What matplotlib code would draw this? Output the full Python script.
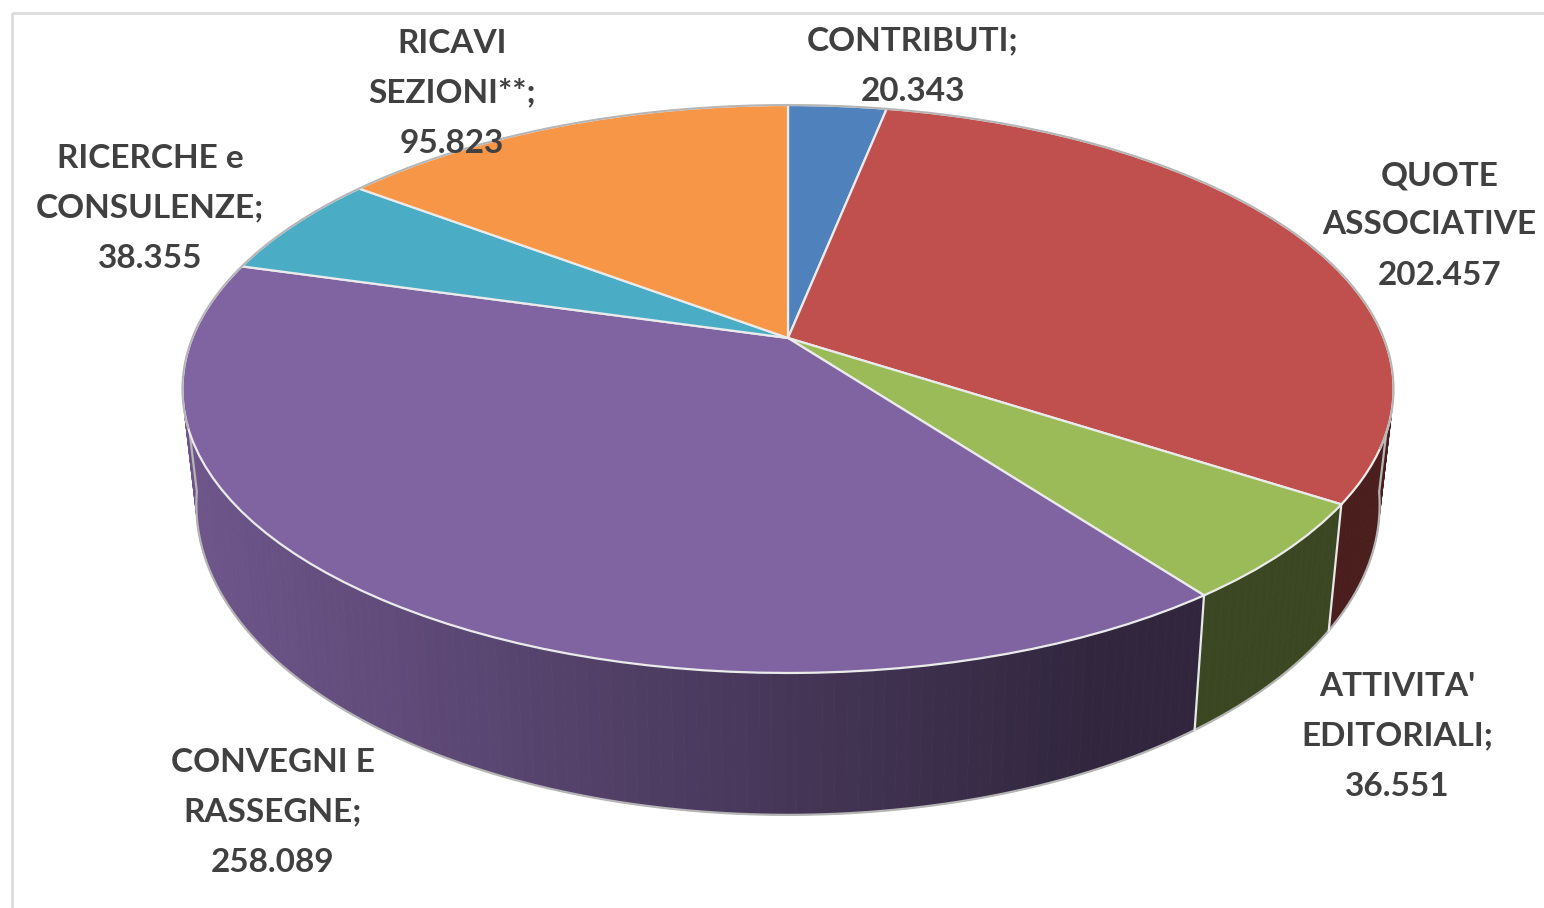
import numpy as np
import matplotlib
matplotlib.use("Agg")
import matplotlib.pyplot as plt
from matplotlib.patches import Rectangle
from matplotlib.transforms import Transform

categories = ["CONTRIBUTI;", "QUOTE\nASSOCIATIVE", "ATTIVITA'\nEDITORIALI;", "CONVEGNI E\nRASSEGNE;",
              "RICERCHE e\nCONSULENZE;", "RICAVI\nSEZIONI**;"]
values = [20343, 202457, 36551, 258089, 38355, 95823]
colors = ["#4f81bd", "#c0504d", "#9bbb59", "#8064a2", "#4bacc6", "#f79646"]
label_x = [913, 1440, 1397, 273, 150, 452]
label_y = [50, 185, 696, 772, 168, 53]

plt.rcParams['font.family'] = ['Lato', 'DejaVu Sans']


# maps the unit circle of the pie to picture pixels, with perspective
class Disc(Transform):
    input_dims = 2
    output_dims = 2

    def __init__(self, cy, a, b, k):
        super().__init__()
        self.cy, self.a, self.b, self.k = cy, a, b, k

    def transform_non_affine(self, xy):
        xy = np.asarray(xy, dtype=float)
        w = 1 + self.k * xy[:, 1]
        return np.column_stack([788 + self.a * xy[:, 0] / w, self.cy - self.b * xy[:, 1] / w])


top = Disc(338, 595.7, 274.8, 0.1796)
bottom = Disc(449, 582, 300, 0.18)


def circle(deg):
    t = np.radians(deg)
    return np.column_stack([np.sin(t), np.cos(t)])


fig = plt.figure(figsize=(15.44, 9.08), dpi=100)
ax = fig.add_axes([0, 0, 1, 1])

edges = np.concatenate([[0], np.cumsum(values)]) / sum(values) * 360

# side of the cake, first so the top face covers the back of it
for i, c in enumerate(colors):
    steps = np.arange(edges[i], edges[i + 1] + 1, 1.0)
    steps[-1] = edges[i + 1]
    p_top = top.transform(circle(steps))
    p_bot = bottom.transform(circle(steps))
    base = np.array(matplotlib.colors.to_rgb(c))
    for j in range(len(steps) - 1):
        xm = (p_top[j, 0] + p_top[j + 1, 0]) / 2
        shade = np.interp(xm, [195, 1100], [0.85, 0.38])
        quad = np.vstack([p_top[j], p_top[j + 1], p_bot[j + 1], p_bot[j]])
        ax.fill(quad[:, 0], quad[:, 1], color=base * shade, lw=0.6, zorder=1)

# outline of the side, ends joined up to the top face
arc = np.arange(98, 263, 1.0)
pts = np.vstack([top.transform(circle(arc[:1])), bottom.transform(circle(arc)), top.transform(circle(arc[-1:]))])
ax.plot(pts[:, 0], pts[:, 1], color="#b5b5b5", lw=1.6, zorder=2)

# seams between the visible side faces
for e in edges[2:4]:
    a = top.transform(circle(np.array([e])))[0]
    b = bottom.transform(circle(np.array([e])))[0]
    ax.plot([a[0], b[0]], [a[1], b[1]], color="#e8e8e8", lw=1.6, zorder=2)

wedges, _ = ax.pie(values, colors=colors, startangle=90, counterclock=False,
                   wedgeprops=dict(edgecolor="#ebebeb", linewidth=1.6, zorder=3))
for w in wedges:
    w.set_transform(top + ax.transData)

ax.set_aspect("auto")
ax.set_xlim(0, 1544)
ax.set_ylim(908, 0)
ax.axis("off")

# grey rim along the back of the top face
arc = np.arange(-108, 113, 1.0)
pts = top.transform(circle(arc))
ax.plot(pts[:, 0], pts[:, 1], color="#b5b5b5", lw=1.4, zorder=4)

ax.add_patch(Rectangle((12, 13), 2000, 2000, fill=False, ec="#dcdcdc", lw=2, zorder=0))

# one text per line, the reference has its line pitch a bit uneven
for cat, val, x, y in zip(categories, values, label_x, label_y):
    lines = cat.split("\n") + [f"{val // 1000}.{val % 1000:03d}"]
    for n, line in enumerate(lines):
        # the semicolon of this one falls off the picture in the reference
        lx = x - 11 if line == "ASSOCIATIVE" else x
        ly = y + n * 49 + (2 if n == len(lines) - 1 else 0)
        ax.text(lx, ly, line, ha="center", va="baseline", fontsize=24, fontweight="bold",
                color="#404040", zorder=5)

fig.savefig("out.png", dpi=100)
